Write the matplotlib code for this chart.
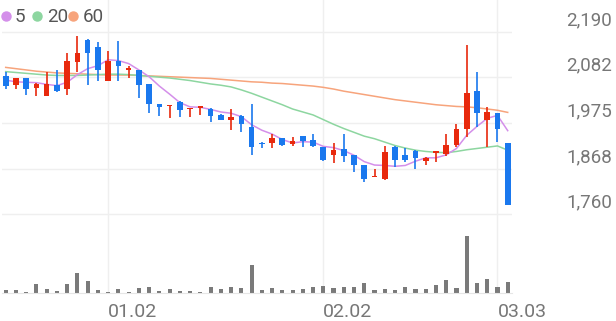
import matplotlib
matplotlib.use('Agg')
import matplotlib.pyplot as plt
import matplotlib.transforms as mtransforms
from matplotlib.lines import Line2D
import numpy as np

plt.rcParams['font.family'] = ['Roboto', 'DejaVu Sans']

# daily candles
opens = [2086, 2064, 2080, 2058, 2039, 2064, 2055, 2119, 2170, 2155,
         2074, 2121, 2100, 2101, 2066, 2020, 2014, 2024, 2008, 2011,
         2009, 1995, 1982, 1991, 1966, 1929, 1927, 1939, 1925, 1944,
         1935, 1919, 1899, 1913, 1899, 1877, 1848, 1844, 1919, 1899,
         1909, 1886, 1905, 1901, 1923, 1962, 2051, 1982, 1998, 1927]
highs = [2096, 2082, 2082, 2070, 2094, 2100, 2140, 2180, 2174, 2165,
         2145, 2168, 2110, 2101, 2066, 2020, 2016, 2026, 2010, 2016,
         2011, 1997, 2008, 1995, 2019, 1930, 1948, 1940, 1942, 1944,
         1948, 1919, 1927, 1948, 1899, 1877, 1866, 1921, 1921, 1915,
         1911, 1894, 1907, 1948, 1973, 2159, 2094, 2013, 1998, 1927]
lows = [2055, 2055, 2041, 2039, 2039, 2048, 2041, 2096, 2064, 2074,
        2074, 2074, 2080, 2034, 1998, 1992, 1986, 1990, 1990, 1994,
        1978, 1982, 1958, 1954, 1899, 1915, 1915, 1920, 1921, 1919,
        1919, 1886, 1881, 1884, 1860, 1836, 1848, 1840, 1872, 1884,
        1866, 1877, 1882, 1898, 1918, 1943, 1966, 1919, 1931, 1782]
closes = [2063, 2080, 2054, 2066, 2066, 2050, 2121, 2141, 2139, 2100,
          2121, 2110, 2104, 2064, 2019, 2013, 2016, 2005, 2010, 2014,
          1992, 1982, 1990, 1972, 1919, 1926, 1939, 1923, 1933, 1933,
          1921, 1888, 1912, 1898, 1876, 1844, 1850, 1907, 1888, 1888,
          1892, 1892, 1907, 1923, 1962, 2045, 1998, 2000, 1962, 1782]
volumes = [33, 33, 17, 90, 43, 23, 93, 200, 120, 30,
           13, 40, 17, 57, 63, 27, 40, 27, 27, 13,
           63, 43, 67, 53, 283, 33, 57, 37, 30, 40,
           67, 70, 57, 60, 67, 107, 37, 47, 37, 63,
           43, 40, 80, 130, 57, 577, 100, 140, 67, 117]

ma5 = [2076, 2072, 2071, 2070, 2066, 2063, 2071, 2089, 2103, 2110,
       2124, 2122, 2115, 2100, 2084, 2062, 2043, 2023, 2013, 2012,
       2007, 2001, 1998, 1990, 1971, 1958, 1949, 1936, 1928, 1931,
       1930, 1920, 1917, 1910, 1899, 1884, 1876, 1875, 1873, 1875,
       1885, 1893, 1893, 1900, 1915, 1946, 1967, 1986, 1993, 1957]
ma20 = [2096, 2094, 2092, 2090, 2088, 2087, 2087, 2087, 2088, 2089,
        2090, 2090, 2089, 2087, 2085, 2083, 2081, 2078, 2075, 2071,
        2067, 2064, 2060, 2053, 2045, 2036, 2027, 2018, 2008, 2001,
        1994, 1983, 1972, 1962, 1953, 1944, 1938, 1930, 1922, 1916,
        1911, 1908, 1906, 1905, 1908, 1912, 1915, 1918, 1921, 1911]
ma60 = [2106, 2103, 2100, 2097, 2095, 2093, 2092, 2091, 2090, 2089,
        2088, 2088, 2088, 2087, 2086, 2085, 2084, 2083, 2082, 2081,
        2080, 2078, 2076, 2074, 2072, 2071, 2069, 2068, 2066, 2064,
        2062, 2059, 2055, 2050, 2046, 2042, 2038, 2034, 2030, 2027,
        2024, 2021, 2018, 2016, 2014, 2013, 2011, 2008, 2005, 2000]

ma_names = ['5', '20', '60']
ma_colors = ['#D48FEA', '#8DD6A0', '#F7A47C']

price_ticks = [2190, 2082.5, 1975, 1867.5, 1760]
price_labels = ['2,190', '2,082', '1,975', '1,868', '1,760']
date_idx = [10, 31, 48]
date_labels = ['01.02', '02.02', '03.03']

UP = '#E8290D'
DOWN = '#1A78EE'
GRID = '#EFEFEF'
TXT = '#777777'

W, H = 616, 321
fig = plt.figure(figsize=(W / 100, H / 100), dpi=100)


def px_box(left, top, right, bottom):
    return [left / W, 1 - bottom / H, (right - left) / W, (bottom - top) / H]


x = np.arange(len(closes))
step = 10.245
xlo = -(5.7 - 2) / step
xhi = xlo + 510 / step

# background axes for the vertical date lines
ax_bg = fig.add_axes(px_box(2, 0, 512, 293.3))
ax_bg.set_xlim(xlo, xhi)
ax_bg.set_ylim(0, 1)
ax_bg.axis('off')
for i in date_idx:
    ax_bg.axvline(i, color=GRID, lw=1.0, zorder=0)

# price panel
ax = fig.add_axes(px_box(2, 26, 512, 218))
ax.patch.set_alpha(0)
ax.set_xlim(xlo, xhi)
scale = 181.6 / 430
ax.set_ylim(1760 - (218 - 214.3) / scale, 2190 + (31.7 - 26) / scale)
for v in price_ticks:
    ax.axhline(v, color=GRID, lw=1.0, zorder=0)
for s in ax.spines.values():
    s.set_visible(False)
ax.set_xticks([])
ax.set_yticks([])

for vals, c in zip([ma60, ma20, ma5], ma_colors[::-1]):
    ax.plot(x, vals, color=c, lw=1.1, zorder=2)

o = np.array(opens)
c = np.array(closes)
colors = [UP if cc >= oo else DOWN for oo, cc in zip(opens, closes)]
ax.vlines(x, lows, highs, colors=colors, lw=1.2, zorder=3)
body_h = np.maximum(np.abs(c - o), 3)
ax.bar(x, body_h, bottom=np.minimum(o, c), width=0.55, color=colors,
       zorder=4, linewidth=0)

trans_y = mtransforms.blended_transform_factory(fig.transFigure, ax.transData)
off = mtransforms.ScaledTranslation(0, 6.7 / 100, fig.dpi_scale_trans)
for v, lab in zip(price_ticks, price_labels):
    ax.text(612 / W, v, lab, transform=trans_y + off, ha='right',
            va='baseline', fontsize=13.5, color=TXT)

# volume panel
ax_v = fig.add_axes(px_box(2, 225, 512, 293.3))
ax_v.patch.set_alpha(0)
ax_v.set_xlim(xlo, xhi)
ax_v.set_ylim(0, 577 * 68.3 / 57.7)
ax_v.bar(x, volumes, width=0.4, color='#7A7A7A', linewidth=0, zorder=2)
for name, s in ax_v.spines.items():
    s.set_visible(name == 'bottom')
ax_v.spines['bottom'].set_color('#E6E6E6')
ax_v.set_xticks([])
ax_v.set_yticks([])

trans_x = mtransforms.blended_transform_factory(ax_v.transData, fig.transFigure)
for i, lab in zip(date_idx, date_labels):
    ax_v.text(i, (H - 316.7) / H, lab, transform=trans_x, ha='left',
              va='baseline', fontsize=14, color=TXT)

# legend
for cx, tx, name, col in zip([6, 37, 73], [15, 47, 83], ma_names, ma_colors):
    fig.add_artist(Line2D([cx / W], [1 - 15.5 / H], marker='o', markersize=6.5,
                          color=col, linestyle='none',
                          transform=fig.transFigure))
    fig.text(tx / W, 1 - 22 / H, name, ha='left', va='baseline',
             fontsize=13.5, color='#555555')

fig.savefig('out.png', dpi=100)
